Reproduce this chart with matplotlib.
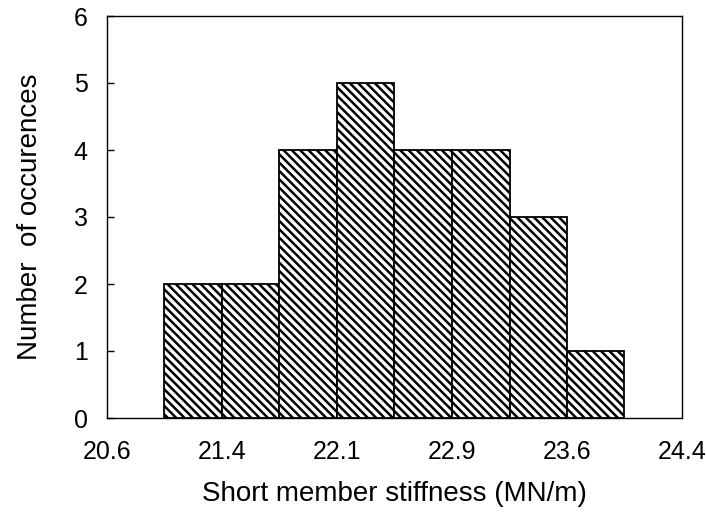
import matplotlib
matplotlib.use("Agg")
import matplotlib.pyplot as plt
import numpy as np

plt.rcParams['font.family'] = ['Liberation Sans', 'DejaVu Sans']
plt.rcParams['hatch.linewidth'] = 1.8

bin_edges = [20.98, 21.36, 21.74, 22.12, 22.50, 22.88, 23.26, 23.64, 24.02]
counts = [2, 2, 4, 5, 4, 4, 3, 1]
xtick_values = [20.6, 21.36, 22.12, 22.88, 23.64, 24.4]
xtick_labels = ["20.6", "21.4", "22.1", "22.9", "23.6", "24.4"]
ytick_values = [0, 1, 2, 3, 4, 5, 6]

fig = plt.figure(figsize=(7.06, 5.12), dpi=100)
ax = fig.add_axes([107/706, 94/512, 575/706, 402/512])

lefts = np.array(bin_edges[:-1])
widths = np.diff(bin_edges)
ax.bar(lefts, counts, width=widths, align='edge', color='white',
       edgecolor='black', linewidth=1.3, hatch='\\\\\\\\')

ax.set_xlim(20.6, 24.4)
ax.set_ylim(0, 6)
ax.set_xticks(xtick_values)
ax.set_xticklabels(xtick_labels)
ax.set_yticks(ytick_values)
ax.tick_params(axis='x', length=0, pad=16, labelsize=18)
ax.tick_params(axis='y', direction='in', length=5, width=1, pad=14, labelsize=18)
for s in ax.spines.values():
    s.set_linewidth(1.0)

ax.set_xlabel("Short member stiffness (MN/m)", fontsize=20, labelpad=12)
ax.set_ylabel("Number  of occurences", fontsize=20, labelpad=22)

fig.savefig("out.png", dpi=100)
